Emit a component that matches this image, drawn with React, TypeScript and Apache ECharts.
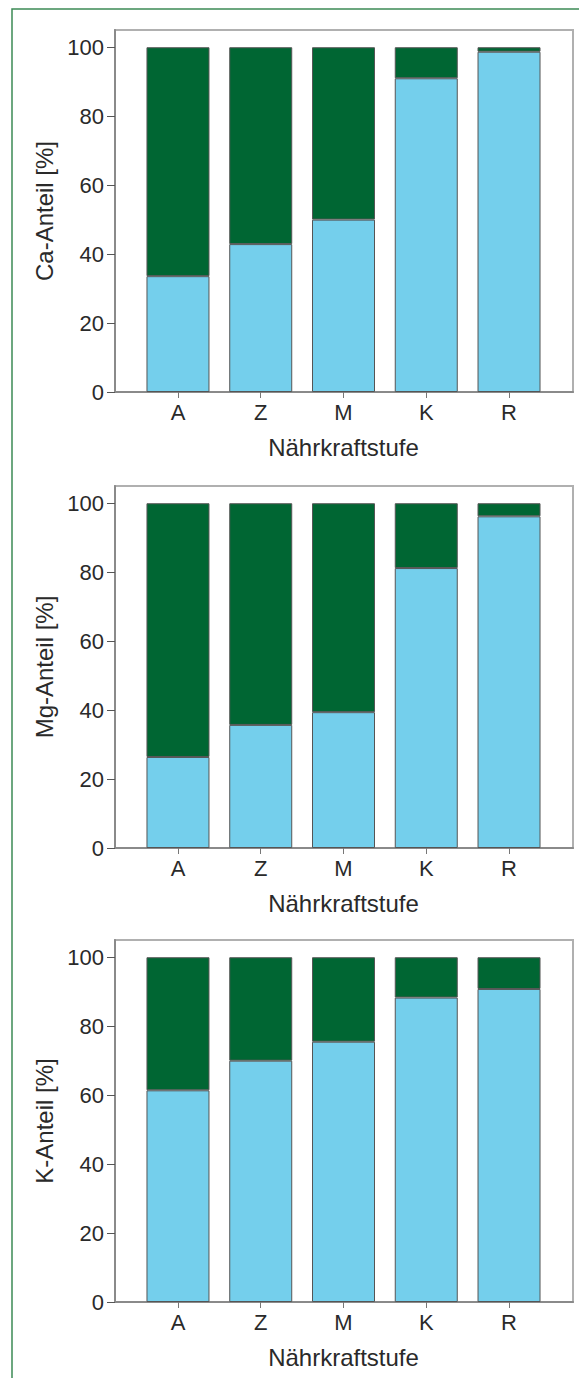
import React, { useEffect, useRef } from "react";
import * as echarts from "echarts";

const categories = ["A", "Z", "M", "K", "R"];
const caLower = [33.6, 42.9, 50.0, 91.0, 98.7];
const mgLower = [26.4, 35.7, 39.4, 81.2, 96.2];
const kLower = [61.4, 70.0, 75.5, 88.3, 90.8];
const total = [100, 100, 100, 100, 100];
const yTicks = [0, 20, 40, 60, 80, 100];
const panelNames = ["Ca-Anteil [%]", "Mg-Anteil [%]", "K-Anteil [%]"];
const xName = "Nährkraftstufe";

const LIGHT = "#74CFEC";
const DARK = "#006633";

export default function App() {
  const ref = useRef<HTMLDivElement>(null);
  useEffect(() => {
    if (!ref.current) return;
    const chart = echarts.init(ref.current, null, { renderer: "svg" });
    const lowers = [caLower, mgLower, kLower];
    const tops = [30, 486, 940];
    const H = 362;
    const font = "Liberation Sans, Arial, sans-serif";
    const FS = 22;
    const NFS = 24;
    const grids: any[] = [];
    const xAxes: any[] = [];
    const yAxes: any[] = [];
    const series: any[] = [];
    lowers.forEach((low, i) => {
      const top = tops[i];
      grids.push({
        left: 115,
        width: 458,
        top,
        height: H,
        show: true,
        borderColor: "#b0b0b0",
        borderWidth: 2,
        backgroundColor: "transparent",
      });
      grids.push({ left: 136.6, width: 413.8, top, height: H });
      xAxes.push({
        gridIndex: 2 * i,
        type: "value",
        min: 0,
        max: 1,
        axisLine: { show: true, lineStyle: { color: "#8a8a8a", width: 2 } },
        axisTick: { show: false },
        axisLabel: { show: false },
        splitLine: { show: false },
      });
      xAxes.push({
        gridIndex: 2 * i + 1,
        type: "category",
        data: categories,
        axisLine: { show: false },
        axisTick: { show: true, alignWithLabel: true, length: 6, lineStyle: { color: "#777" } },
        axisLabel: { fontSize: FS, color: "#2a2a2a", margin: 9, fontFamily: font },
        name: xName,
        nameLocation: "middle",
        nameGap: 43,
        nameTextStyle: { fontSize: NFS, color: "#2a2a2a", fontFamily: font },
      });
      yAxes.push({
        gridIndex: 2 * i,
        type: "value",
        min: 0,
        max: 105,
        interval: 20,
        axisLine: { show: true, lineStyle: { color: "#8a8a8a", width: 2 } },
        axisTick: { show: true, length: 8, customValues: yTicks, lineStyle: { color: "#555" } },
        axisLabel: { fontSize: FS, color: "#2a2a2a", margin: 11, customValues: yTicks, fontFamily: font },
        splitLine: { show: false },
        name: panelNames[i],
        nameLocation: "middle",
        nameGap: 57,
        nameTextStyle: { fontSize: NFS, color: "#2a2a2a", fontFamily: font },
      });
      yAxes.push({
        gridIndex: 2 * i + 1,
        type: "value",
        min: 0,
        max: 105,
        show: false,
      });
      series.push({
        type: "bar",
        xAxisIndex: 2 * i + 1,
        yAxisIndex: 2 * i + 1,
        stack: "s" + i,
        barWidth: 63,
        data: low,
        itemStyle: { color: LIGHT, borderColor: "#555", borderWidth: 1 },
      });
      series.push({
        type: "bar",
        xAxisIndex: 2 * i + 1,
        yAxisIndex: 2 * i + 1,
        stack: "s" + i,
        barWidth: 63,
        data: total.map((t, j) => +(t - low[j]).toFixed(1)),
        itemStyle: { color: DARK, borderColor: "#555", borderWidth: 1 },
      });
    });
    chart.setOption({
      animation: false,
      backgroundColor: "#ffffff",
      grid: grids,
      xAxis: xAxes,
      yAxis: yAxes,
      series,
      graphic: [
        {
          type: "rect",
          shape: { x: 12, y: 9, width: 600, height: 1400 },
          style: { fill: "none", stroke: "#3d8a55", lineWidth: 1.5 },
          silent: true,
        },
      ],
    });
    return () => chart.dispose();
  }, []);
  return (
    <div
      ref={ref}
      style={{ position: "absolute", left: 0, top: 0, width: 579, height: 1378 }}
    />
  );
}
